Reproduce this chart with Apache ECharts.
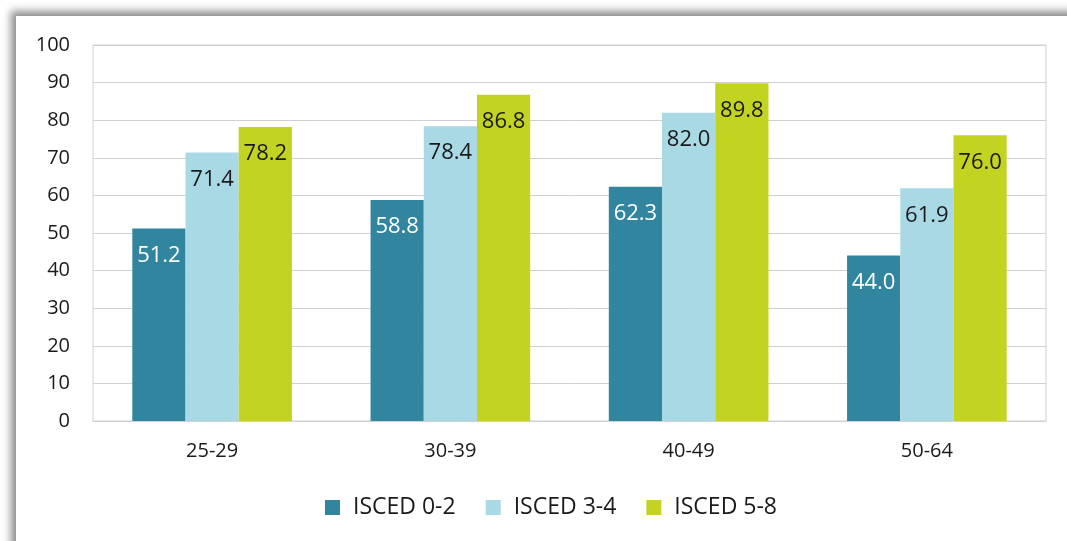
<!DOCTYPE html>
<html><head><meta charset="utf-8">
<script src="https://cdn.jsdelivr.net/npm/echarts@6/dist/echarts.min.js"></script>
<style>
html,body{margin:0;padding:0;width:1067px;height:541px;overflow:hidden;background:#fff;}
#frame{position:absolute;left:16px;top:16px;width:1100px;height:600px;background:#fff;box-shadow:-5px -5px 8px rgba(0,0,0,0.45);}
#chart{position:absolute;left:0;top:0;width:1067px;height:541px;}
</style></head>
<body>
<div id="frame"></div>
<div id="chart"></div>
<script>
const categories = ['25-29', '30-39', '40-49', '50-64'];
const seriesNames = ['ISCED 0-2', 'ISCED 3-4', 'ISCED 5-8'];
const isced02 = [51.2, 58.8, 62.3, 44.0];
const isced34 = [71.4, 78.4, 82.0, 61.9];
const isced58 = [78.2, 86.8, 89.8, 76.0];
const yTicks = [0, 10, 20, 30, 40, 50, 60, 70, 80, 90, 100];

const colors = ['#31859F', '#A9D9E5', '#C3D322'];
const labelColors = ['#ffffff', '#1a1a1a', '#1a1a1a'];
const font = '"Open Sans", "Noto Sans", sans-serif';
const dataSets = [isced02, isced34, isced58];

const chart = echarts.init(document.getElementById('chart'), null, {renderer: 'canvas'});
chart.setOption({
  animation: false,
  backgroundColor: 'transparent',
  textStyle: {fontFamily: font},
  grid: {left: 93, right: 21, top: 45, bottom: 120, containLabel: false, show: true, borderColor: '#d0d0d0', borderWidth: 1},
  legend: {
    bottom: 17, left: 320, itemWidth: 15, itemHeight: 15, itemGap: 30,
    icon: 'rect',
    textStyle: {fontSize: 23, color: '#1a1a1a', fontFamily: font, padding: [0, 0, 0, 8]},
    data: seriesNames
  },
  xAxis: {
    type: 'category', data: categories,
    axisLine: {show: true, lineStyle: {color: '#d0d0d0'}},
    axisTick: {show: false},
    axisLabel: {fontSize: 20, color: '#1a1a1a', margin: 20, fontFamily: font}
  },
  yAxis: {
    type: 'value', min: yTicks[0], max: yTicks[yTicks.length - 1], interval: 10,
    axisLine: {show: false}, axisTick: {show: false},
    splitLine: {lineStyle: {color: '#d0d0d0', width: 1}},
    axisLabel: {fontSize: 20, color: '#1a1a1a', margin: 23, fontFamily: font}
  },
  series: seriesNames.map((n, i) => ({
    name: n, type: 'bar', data: dataSets[i],
    barGap: '0%', barCategoryGap: '33%',
    itemStyle: {color: colors[i]},
    label: {
      show: true, position: 'insideTop', distance: 16,
      color: labelColors[i], fontSize: 22, fontFamily: font,
      formatter: p => p.value.toFixed(1)
    }
  }))
});
</script>
</body></html>
